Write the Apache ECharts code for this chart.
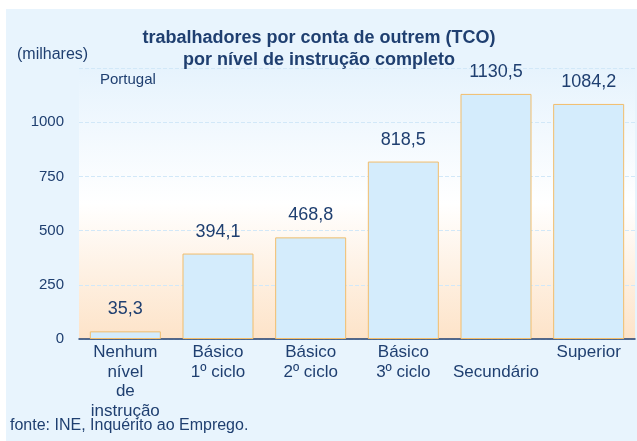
<!DOCTYPE html>
<html>
<head>
<meta charset="utf-8">
<script src="https://cdn.jsdelivr.net/npm/echarts@6/dist/echarts.min.js"></script>
<style>
  html, body { margin: 0; padding: 0; background: #fff; }
  #chart { width: 637px; height: 441px; }
</style>
</head>
<body>
<div id="chart"></div>
<script>
const categories = ['Nenhum\nnível\nde\ninstrução', 'Básico\n1º ciclo', 'Básico\n2º ciclo', 'Básico\n3º ciclo', '\nSecundário', 'Superior']
const values = [35.3, 394.1, 468.8, 818.5, 1130.5, 1084.2]
const yTicks = [0, 250, 500, 750, 1000]

const navy = '#1f3f70'
const font = 'Liberation Sans, Arial, sans-serif'
const chart = echarts.init(document.getElementById('chart'))

chart.setOption({
  animation: false,
  textStyle: { fontFamily: font },
  graphic: [
    {
      type: 'rect',
      z: -10,
      shape: { x: 6, y: 9, width: 631, height: 432 },
      style: { fill: '#e8f4fd' },
    },
    {
      type: 'text',
      left: 17,
      top: 47,
      style: { text: '(milhares)', fill: navy, font: '16px ' + font },
    },
    {
      type: 'text',
      left: 100,
      top: 72,
      style: { text: 'Portugal', fill: navy, font: '15px ' + font },
    },
    {
      type: 'text',
      left: 10,
      top: 418,
      style: { text: 'fonte: INE, Inquérito ao Emprego.', fill: navy, font: '16px ' + font },
    },
  ],
  title: {
    text: 'trabalhadores por conta de outrem (TCO)\npor nível de instrução completo',
    left: 314,
    textAlign: 'center',
    top: 22,
    textStyle: {
      color: navy,
      fontSize: 18,
      fontWeight: 'bold',
      lineHeight: 22,
      fontFamily: font,
    },
  },
  grid: {
    left: 79,
    right: 2,
    top: 68,
    bottom: 102,
    show: true,
    borderWidth: 0,
    backgroundColor: {
      type: 'linear',
      x: 0, y: 0, x2: 0, y2: 1,
      colorStops: [
        { offset: 0, color: '#e6f3fd' },
        { offset: 0.5, color: '#ffffff' },
        { offset: 1, color: '#fde3c8' },
      ],
    },
  },
  xAxis: {
    type: 'category',
    data: categories,
    axisTick: { show: false },
    axisLine: { lineStyle: { color: navy, width: 1.5 } },
    axisLabel: {
      color: navy,
      fontSize: 17,
      lineHeight: 19.5,
      margin: 4,
      interval: 0,
    },
  },
  yAxis: {
    type: 'value',
    min: 0,
    max: 1250,
    interval: 250,
    axisLine: { show: false },
    axisTick: { show: false },
    axisLabel: {
      color: navy,
      fontSize: 15,
      margin: 15,
      formatter: v => (yTicks.includes(v) ? String(v) : ''),
    },
    splitLine: {
      lineStyle: { color: '#d2e8f8', type: 'dashed' },
    },
  },
  series: [
    {
      type: 'bar',
      data: values,
      barWidth: 71,
      itemStyle: {
        color: '#d4ecfc',
        borderColor: '#f2bd6b',
        borderWidth: 1,
      },
      label: {
        show: true,
        position: 'top',
        distance: 13,
        color: navy,
        fontSize: 18,
        formatter: p => p.value.toFixed(1).replace('.', ','),
      },
    },
  ],
})
</script>
</body>
</html>
